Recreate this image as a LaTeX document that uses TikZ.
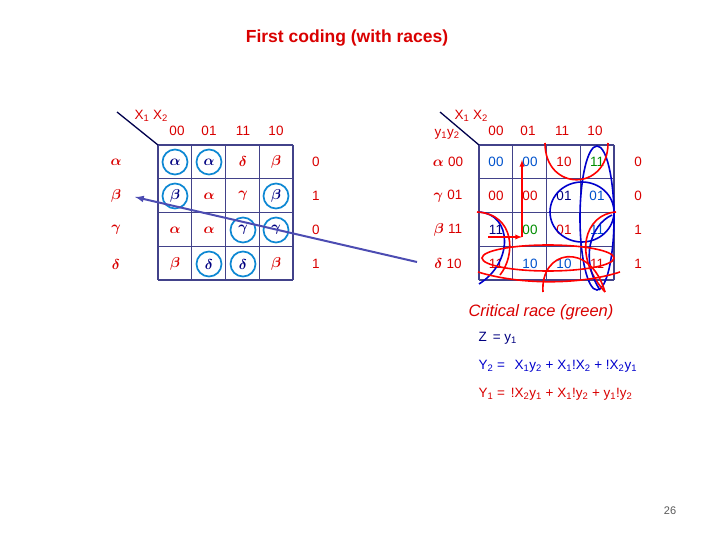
\documentclass[tikz,border=0pt]{standalone}
\usepackage{fontspec}
\setmainfont{Liberation Sans}
\usepackage{bm}
\begin{document}
\begin{tikzpicture}[x=1pt,y=-1pt,
  cr/.style={text=red!85!black},
  cb/.style={text=blue!60!cyan!80!black},
  cg/.style={text=green!55!black},
  cd/.style={text=blue!50!black},
  t/.style={font=\fontsize{13.5}{15}\selectfont},
  gk/.style={font=\fontsize{15}{16}\selectfont},
  gl/.style={draw=blue!35!gray!80!black, line width=1.3pt},
  ring/.style={draw=cyan!70!blue, line width=1.7pt, circle, minimum size=25pt, inner sep=0pt},
  rl/.style={draw=red, line width=1.6pt},
  bl/.style={draw=blue!80!black, line width=1.6pt}]
\useasboundingbox (0,0) rectangle (720,540);
\node[cr,font=\bfseries\fontsize{17.5}{19}\selectfont] (title) at (347,38) {First coding (with races)};
% left map
\foreach \i in {0,...,4}{
  \draw[gl] ({158+33.75*\i},145) -- ({158+33.75*\i},280);
  \draw[gl] (158,{145+33.75*\i}) -- (293,{145+33.75*\i});}
\draw[line width=1.3pt, blue!30!black] (117,112) -- (158,145);
\node[cr,t,inner sep=0pt,anchor=east] (lx) at (168,116) {X\textsubscript{1} X\textsubscript{2}};
\foreach \c/\x in {00/177,01/209,11/243,10/276}{\node[cr,t] at (\x,131) {\c};}
\foreach \s/\y/\z in {\alpha/162/0,\beta/196/1,\gamma/230/0,\delta/264/1}{
  \node[cr,gk] at (116,\y) {$\bm{\s}$}; \node[cr,t] at (316,\y) {\z};}
\foreach \s/\x/\y/\r in {\alpha/175/162/1,\alpha/209/162/1,\delta/243/162/0,\beta/276/162/0,
  \beta/175/196/1,\alpha/209/196/0,\gamma/243/196/0,\beta/276/196/1,
  \alpha/175/230/0,\alpha/209/230/0,\gamma/243/230/1,\gamma/276/230/1,
  \beta/175/264/0,\delta/209/264/1,\delta/243/264/1,\beta/276/264/0}{
  \ifnum\r=1 \node[ring,cd,gk] at (\x,\y) {$\bm{\s}$};\else\node[cr,gk] at (\x,\y) {$\bm{\s}$};\fi}
% right map
\foreach \i in {0,...,4}{
  \draw[gl] ({479+33.75*\i},145) -- ({479+33.75*\i},280);
  \draw[gl] (479,{145+33.75*\i}) -- (614,{145+33.75*\i});}
\draw[line width=1.3pt, blue!30!black] (440,112) -- (479,145);
\node[cr,t,inner sep=0pt,anchor=east] (rx) at (488,116) {X\textsubscript{1} X\textsubscript{2}};
\node[cr,t] (ry) at (447,134) {y\textsubscript{1}y\textsubscript{2}};
\foreach \c/\x in {00/496,01/528,11/562,10/595}{\node[cr,t] at (\x,131) {\c};}
\foreach \s/\c/\y/\z in {\alpha/00/162/0,\gamma/01/196/0,\beta/11/230/1,\delta/10/264/1}{
  \node[cr,gk] at (448,\y) {$\bm{\s}$ \fontsize{13.5}{15}\selectfont\c}; \node[cr,t] at (638,\y) {\z};}
\foreach \v/\st/\x/\y in {00/cb/496/162,00/cb/530/162,10/cr/564/162,11/cg/597/162,
  00/cr/496/196,00/cr/530/196,01/cd/564/196,01/cb/597/196,
  11/cd/496/230,00/cg/530/230,01/cr/564/230,11/cb/597/230,
  11/cr/496/264,10/cb/530/264,10/cb/564/264,11/cr/597/264}{
  \node[\st,t] at (\x,\y) {\v};}
% loops
\draw[bl] (582,212) circle[x radius=32,y radius=30];
\draw[bl] (597,218) ellipse[x radius=17,y radius=72];
\draw[rl] (545,143) .. controls (545,192) and (608,192) .. (608,143);
\draw[bl] (479,212) .. controls (512,214) and (514,262) .. (479,284);
\draw[rl] (477,212) .. controls (515,214) and (516,255) .. (500,275);
\draw[rl] (616,212) .. controls (585,214) and (572,255) .. (605,292);
\draw[bl] (612,215) .. controls (590,225) and (580,260) .. (600,290);
\draw[rl] (548,258) ellipse[x radius=66,y radius=13];
\draw[rl] (478,272) .. controls (520,285) and (580,285) .. (620,272);
\draw[rl] (543,292) .. controls (540,250) and (590,240) .. (605,292);
\draw[red, line width=1.3pt,-latex] (488,237) -- (522,237);
\draw[red, line width=1.3pt,-latex] (522,237) -- (522,160);
% arrow
\coordinate (a1) at (417,262);
\coordinate (a2) at (135,197);
\draw[blue!40!gray, line width=2pt,-latex] (a1) -- (a2);
% equations
\node[cr,font=\itshape\fontsize{16.5}{18}\selectfont,anchor=west] (crt) at (465,312) {Critical race (green)};
\node[cd,t,anchor=west] (e1) at (475,338) {Z \,= y\textsubscript{1}};
\node[text=blue!80!black,t,anchor=west] (e2) at (475,366) {Y\textsubscript{2} = \ \,X\textsubscript{1}y\textsubscript{2} + X\textsubscript{1}!X\textsubscript{2} + !X\textsubscript{2}y\textsubscript{1}};
\node[cr,t,anchor=west] (e3) at (475,394) {Y\textsubscript{1} = \,!X\textsubscript{2}y\textsubscript{1} + X\textsubscript{1}!y\textsubscript{2} + y\textsubscript{1}!y\textsubscript{2}};
\node[font=\fontsize{11}{12}\selectfont,text=gray!70!black] (pg) at (670,511) {26};
\end{tikzpicture}
\end{document}
